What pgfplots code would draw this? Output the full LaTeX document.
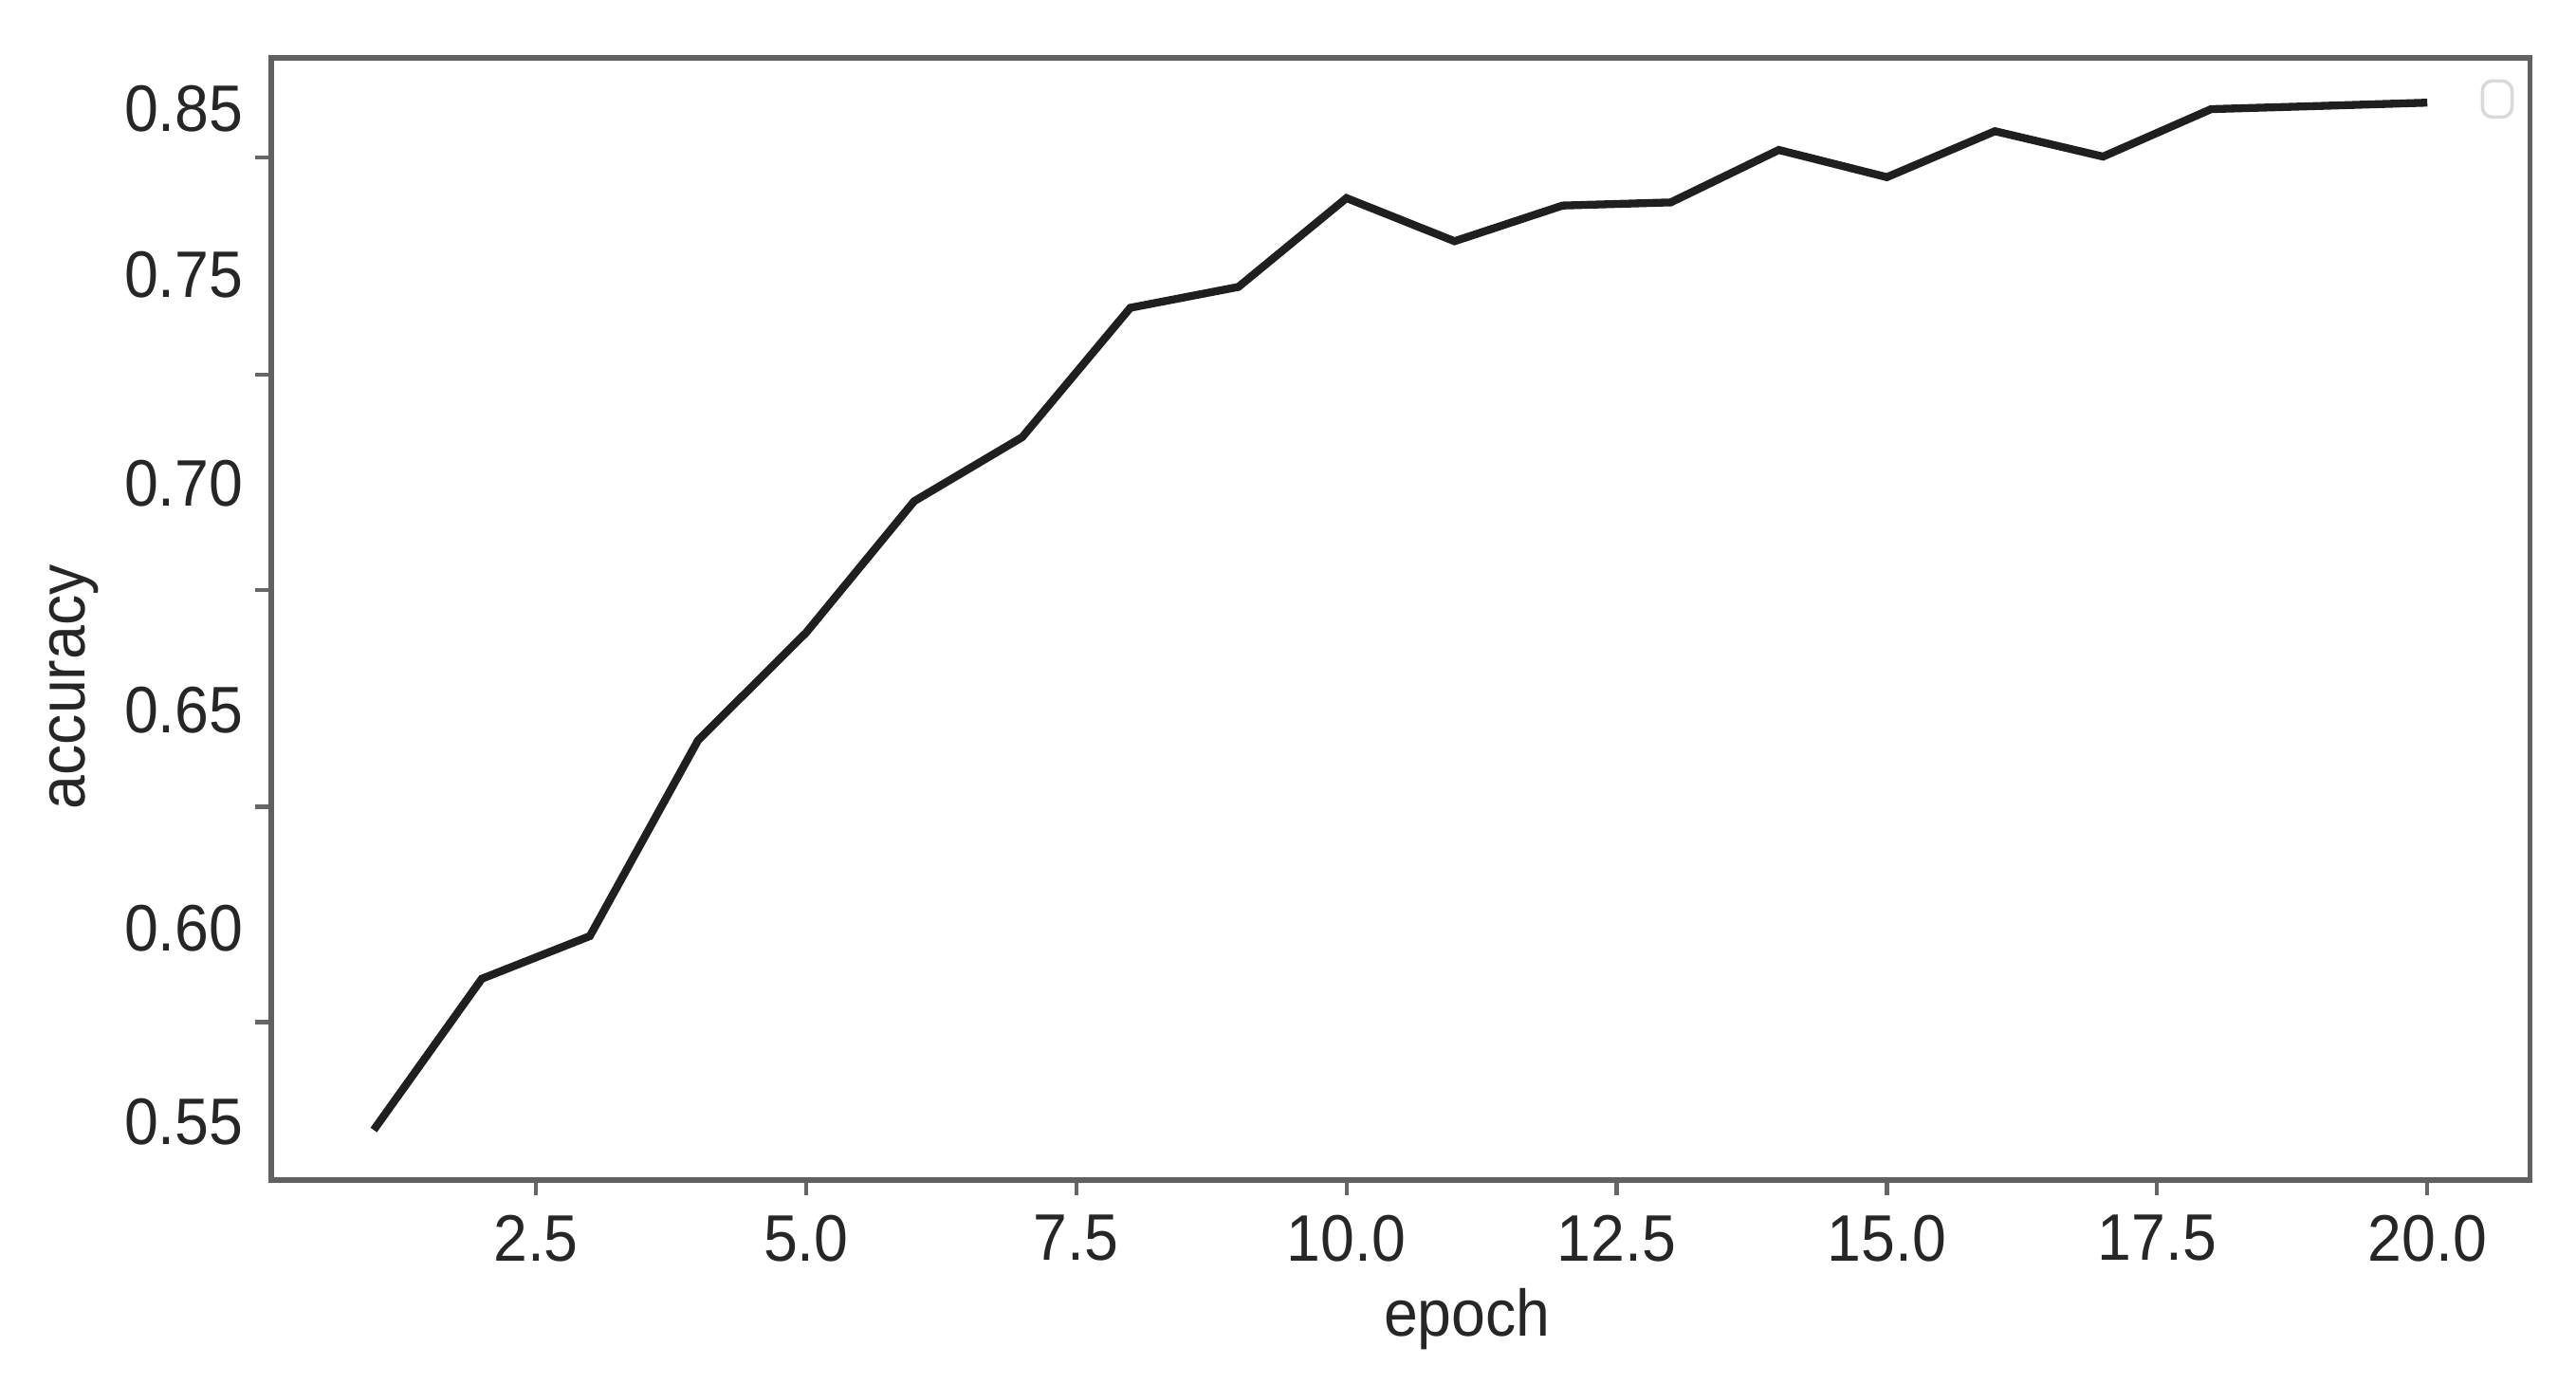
\documentclass[border=0pt]{standalone}
\usepackage{fontspec}
\setmainfont{Liberation Sans}[FakeStretch=0.93]
\usepackage{pgfplots}
\pgfplotsset{compat=1.18}
\begin{document}
\begin{tikzpicture}
\begin{axis}[
  name=main,
  scale only axis,
  width=343.75pt, height=170.75pt,
  xmin=0.05, xmax=20.95,
  y coord trafo/.code={\pgfmathparse{#1<0.6 ? (#1-0.55)*2360 : (#1<0.65 ? 118+(#1-0.6)*2660 : (#1<0.7 ? 251+(#1-0.65)*2760 : (#1<0.75 ? 389+(#1-0.7)*2540 : 516+(#1-0.75)*1010)))}},
  ymin=0.53517, ymax=0.8807,
  xtick={2.5,5,7.5,10,12.5,15,17.5,20},
  xticklabels={2.5,5.0,7.5,10.0,12.5,15.0,17.5,20.0},
  ytick={0.5758,0.6278,0.6764,0.7260,0.8203},
  yticklabels={},
  extra y ticks={0.55,0.60,0.65,0.70,0.75,0.85},
  extra y tick labels={0.55,0.60,0.65,0.70,0.75,0.85},
  extra y tick style={major tick length=0pt},
  xtick pos=bottom, ytick pos=left,
  tick align=outside,
  major tick length=2.4pt,
  tick style={draw=black!60, line width=0.6pt},
  axis line style={draw=black!62, line width=0.85pt},
  tick label style={font=\fontsize{10}{12}\selectfont, text=black!85},
  xticklabel style={yshift=0.5pt},
  yticklabel style={xshift=-0.7pt},
  xlabel={epoch}, ylabel={accuracy},
  xlabel style={font=\fontsize{10}{12}\selectfont, text=black!85, at={(axis description cs:0.5295,-0.1245)}, anchor=center},
  ylabel style={font=\fontsize{10}{12}\selectfont, text=black!85, at={(axis description cs:-0.0873,0.439)}, anchor=center},
]
\addplot[color=black!88, line width=1.2pt] coordinates {
 (1,0.548) (2,0.587) (3,0.598) (4,0.643) (5,0.667) (6,0.696) (7,0.711)
 (8,0.742) (9,0.747) (10,0.796) (11,0.770) (12,0.7915) (13,0.7934)
 (14,0.825) (15,0.8086) (16,0.8363) (17,0.821) (18,0.8496) (19,0.8515) (20,0.8535)
};
\node[draw=black!15, line width=0.5pt, rounded corners=1.5pt, minimum width=4.5pt, minimum height=5.5pt, inner sep=0pt] at (axis description cs:0.9855,0.963) {};
\end{axis}
\pgfresetboundingbox
\useasboundingbox (main.south west) ++(-41.25pt,-31pt) rectangle ++(392pt,210.5pt);
\end{tikzpicture}
\end{document}
